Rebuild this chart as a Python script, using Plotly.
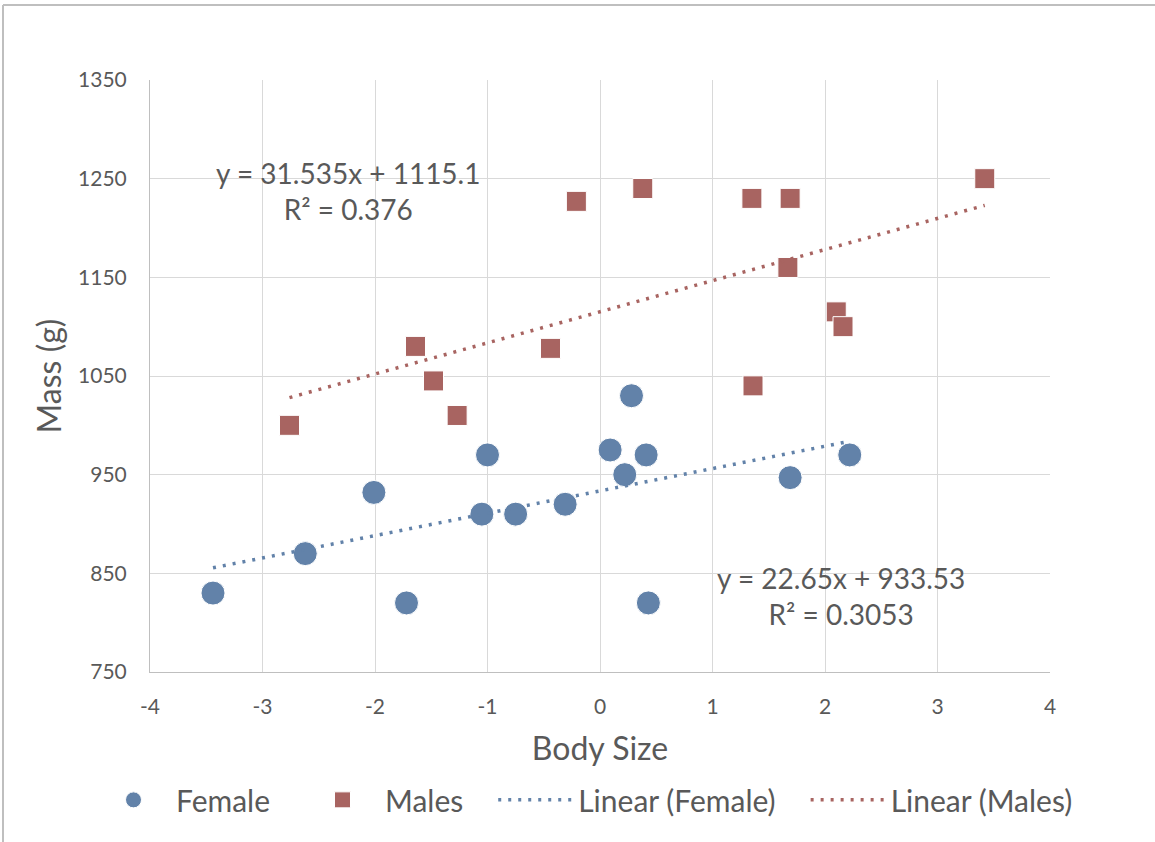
import numpy as np
import plotly.graph_objects as go

# Female data
female_x = [-3.44, -2.62, -2.01, -1.72, -1.00, -1.05, -0.75, -0.31, 0.09, 0.28, 0.22, 0.41, 0.43, 1.69, 2.22]
female_y = [830, 870, 932, 820, 970, 910, 910, 920, 975, 1030, 950, 970, 820, 947, 970]

# Male data
male_x = [-2.76, -1.64, -1.48, -1.27, -0.44, -0.21, 0.38, 1.35, 1.69, 1.67, 2.10, 2.16, 3.42, 1.36]
male_y = [1000, 1080, 1045, 1010, 1078, 1227, 1240, 1230, 1230, 1160, 1115, 1100, 1250, 1040]

# Trendline coefficients (as displayed)
female_slope, female_intercept = 22.65, 933.53
male_slope, male_intercept = 31.535, 1115.1
female_eq = "y = 22.65x + 933.53<br>R² = 0.3053"
male_eq = "y = 31.535x + 1115.1<br>R² = 0.376"

series_names = ["Female", "Males", "Linear (Female)", "Linear (Males)"]

x_ticks = [-4, -3, -2, -1, 0, 1, 2, 3, 4]
y_ticks = [750, 850, 950, 1050, 1150, 1250, 1350]

BLUE = "#6282A9"
RED = "#A86461"
TXT = "#595959"
FONT = "Lato, 'Open Sans', sans-serif"
PAD = "\u2002\u2004"  # spacing after legend entries

fx = np.array([min(female_x), max(female_x)])
mx = np.array([min(male_x), max(male_x)])

fig = go.Figure()
fig.add_trace(go.Scatter(x=female_x, y=female_y, mode="markers", name=series_names[0] + PAD,
                         marker=dict(symbol="circle", size=24, color=BLUE,
                                     line=dict(color="white", width=1))))
fig.add_trace(go.Scatter(x=male_x, y=male_y, mode="markers", name=series_names[1] + PAD,
                         marker=dict(symbol="square", size=20, color=RED,
                                     line=dict(color="white", width=1))))
fig.add_trace(go.Scatter(x=fx, y=female_slope * fx + female_intercept, mode="lines",
                         name=series_names[2] + PAD,
                         line=dict(color=BLUE, width=3.5, dash="3px,7px")))
fig.add_trace(go.Scatter(x=mx, y=male_slope * mx + male_intercept, mode="lines",
                         name=series_names[3],
                         line=dict(color=RED, width=3.5, dash="3px,7px")))

fig.add_annotation(x=-2.24, y=1237.5, text=male_eq, showarrow=False,
                   font=dict(size=28, color=TXT, family=FONT), align="center")
fig.add_annotation(x=2.14, y=827.5, text=female_eq, showarrow=False,
                   font=dict(size=28, color=TXT, family=FONT), align="center")

# outer frame (top and left edges)
fig.add_shape(type="line", xref="paper", yref="paper",
              x0=(3 - 150) / 900, x1=(1160 - 150) / 900,
              y0=(672 - 5) / 592, y1=(672 - 5) / 592,
              line=dict(color="#BFBFBF", width=2))
fig.add_shape(type="line", xref="paper", yref="paper",
              x0=(3 - 150) / 900, x1=(3 - 150) / 900,
              y0=(672 - 5) / 592, y1=(672 - 850) / 592,
              line=dict(color="#BFBFBF", width=2))

fig.update_layout(
    width=1155, height=842,
    margin=dict(l=150, r=105, t=80, b=170, autoexpand=False),
    paper_bgcolor="white", plot_bgcolor="white",
    font=dict(family=FONT, color=TXT),
    showlegend=True,
    legend=dict(orientation="h", x=(91 - 150) / 900, xanchor="left",
                y=-0.216, yanchor="middle",
                font=dict(size=30, color=TXT, family=FONT), itemwidth=75),
    xaxis=dict(range=[-4, 4], tickvals=x_ticks, ticktext=[str(v) for v in x_ticks],
               showgrid=True, gridcolor="#D9D9D9", gridwidth=1,
               zeroline=False, showline=True, linecolor="#BFBFBF", mirror=False,
               ticks="", tickfont=dict(size=21, color=TXT), ticklabelstandoff=16,
               title=dict(text="Body Size", font=dict(size=32, color=TXT), standoff=20)),
    yaxis=dict(range=[750, 1350], tickvals=y_ticks, ticktext=[str(v) for v in y_ticks],
               showgrid=True, gridcolor="#D9D9D9", gridwidth=1,
               zeroline=False, showline=True, linecolor="#BFBFBF",
               ticks="", tickfont=dict(size=21, color=TXT), ticklabelstandoff=18,
               title=dict(text="Mass (g)", font=dict(size=32, color=TXT), standoff=6)),
)

fig.write_html("out.html", config={"displayModeBar": False},
               post_script="document.body.style.margin='0px';")
